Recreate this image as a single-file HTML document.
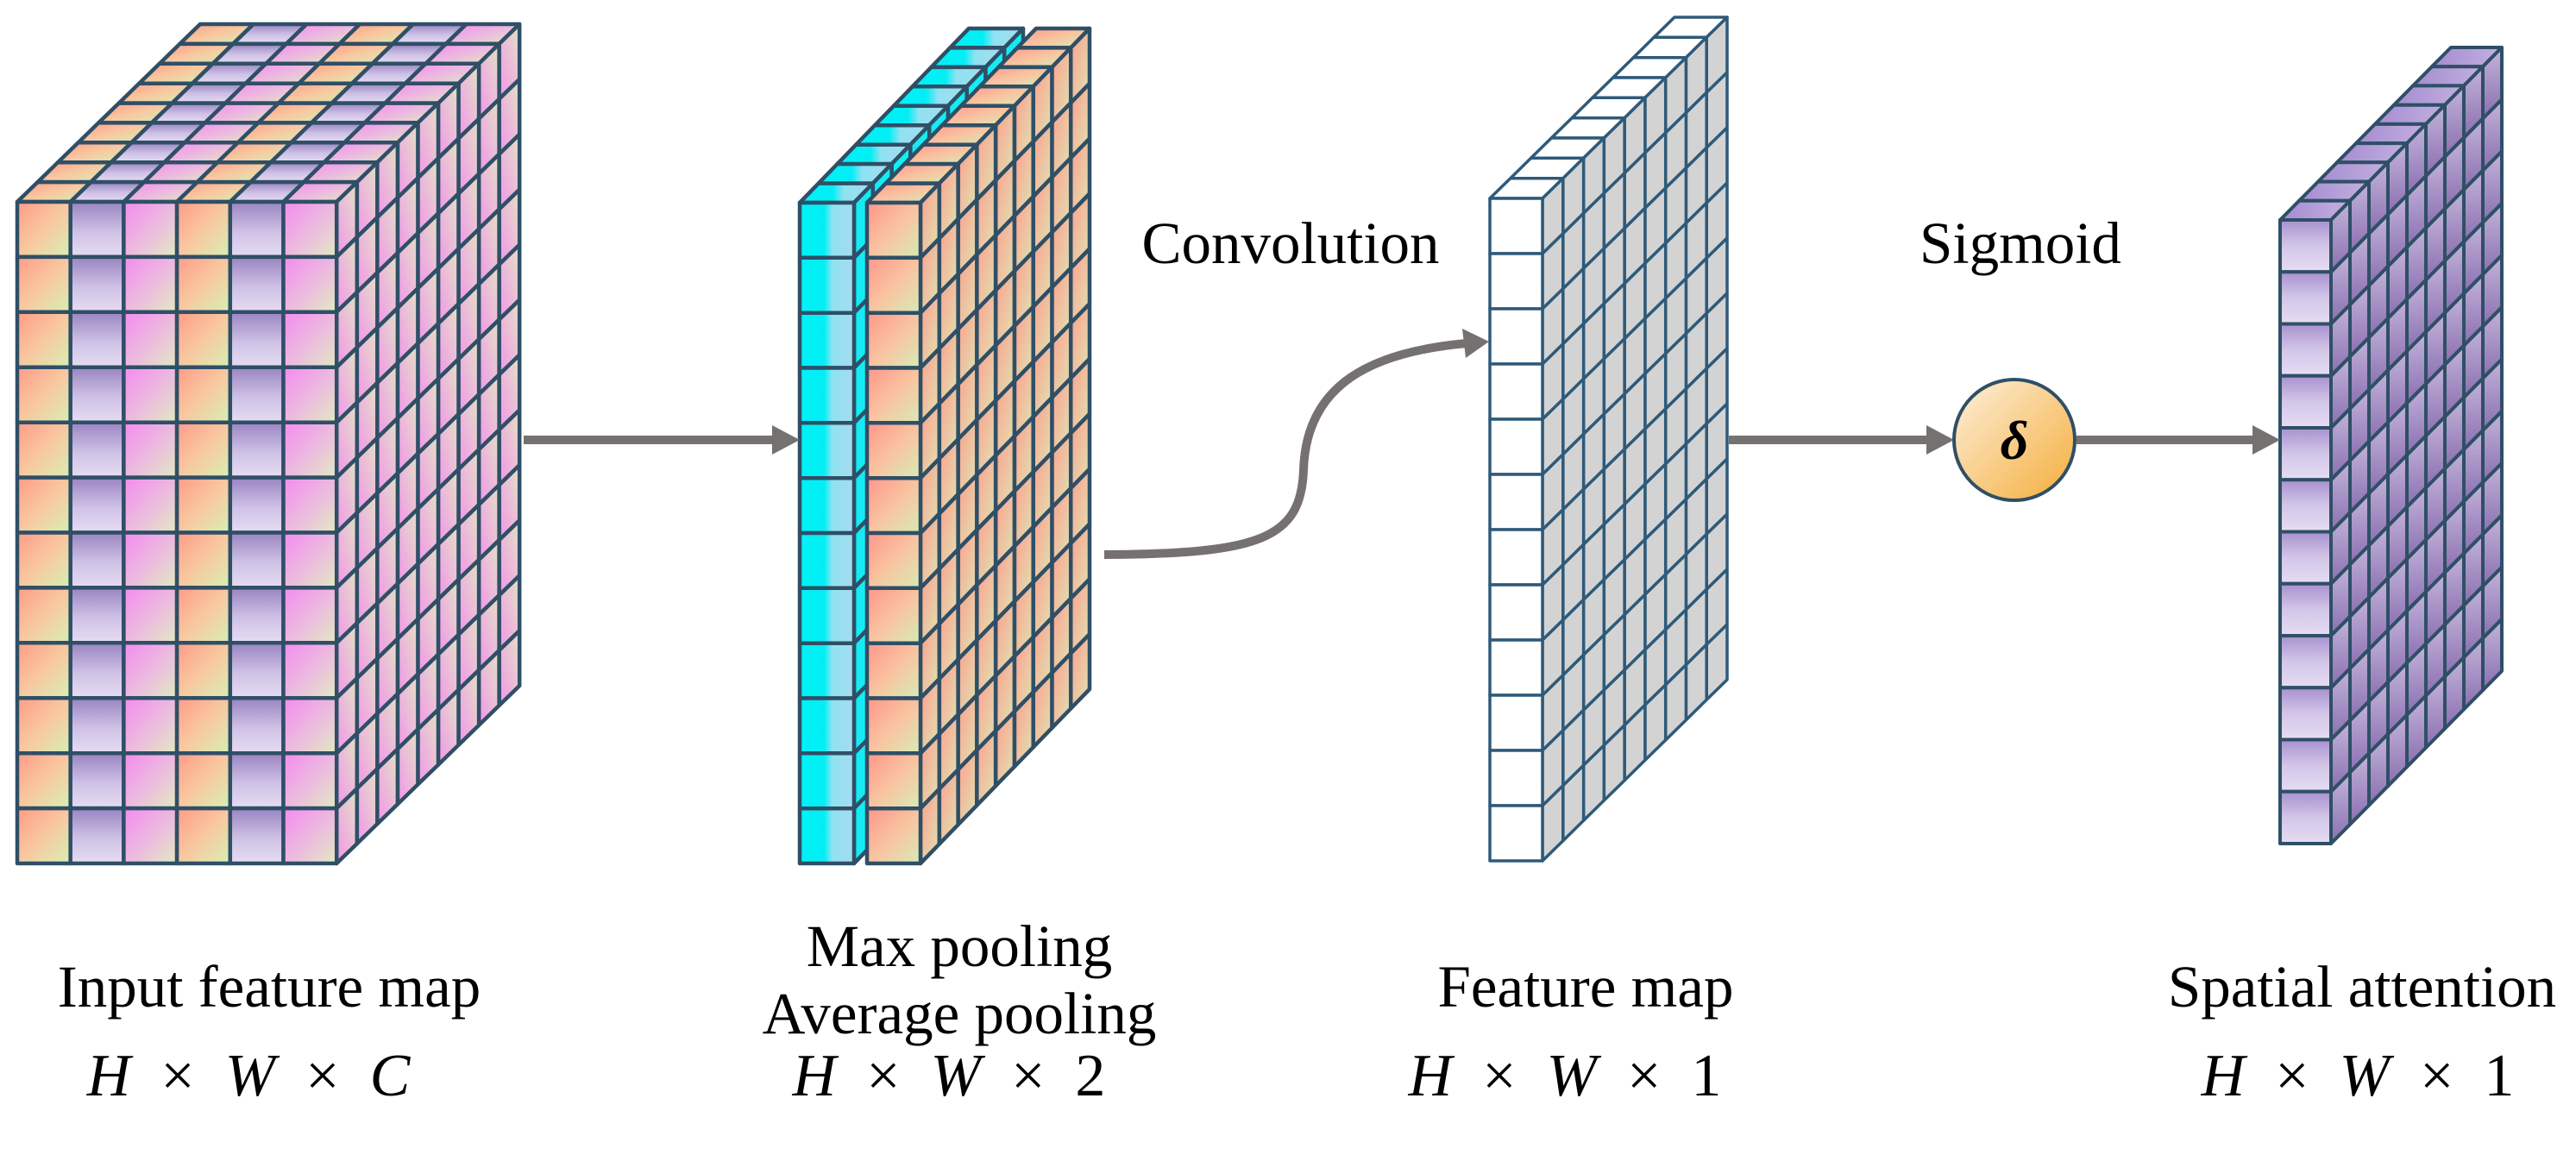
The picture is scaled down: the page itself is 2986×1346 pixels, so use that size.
<!DOCTYPE html>
<html><head><meta charset="utf-8">
<style>
html,body{margin:0;padding:0;background:#fff;}
svg{display:block;}
.t{font-family:"Liberation Serif",serif;font-size:69px;fill:#000;}
.m{font-family:"Liberation Serif",serif;font-size:70px;fill:#000;}
</style></head>
<body>
<svg id="s" width="2986" height="1346" viewBox="0 0 2986 1346" xmlns="http://www.w3.org/2000/svg">
<defs>
<linearGradient id="peach" x1="0" y1="0" x2="1" y2="1"><stop offset="0" stop-color="#ff9a88"/><stop offset="0.5" stop-color="#f8c8a0"/><stop offset="1" stop-color="#d6f0b4"/></linearGradient>
<linearGradient id="purp" x1="0" y1="0" x2="0" y2="1"><stop offset="0" stop-color="#9a84c2"/><stop offset="0.55" stop-color="#cfc2e6"/><stop offset="1" stop-color="#e6dcf3"/></linearGradient>
<linearGradient id="pink" x1="0" y1="0" x2="1" y2="1"><stop offset="0" stop-color="#f58af0"/><stop offset="0.5" stop-color="#ecb8e0"/><stop offset="1" stop-color="#e2eac2"/></linearGradient>
<linearGradient id="side" x1="0" y1="1" x2="1" y2="0"><stop offset="0" stop-color="#f295e8"/><stop offset="0.5" stop-color="#ebbcd8"/><stop offset="1" stop-color="#e2e2c4"/></linearGradient>
<linearGradient id="cyan" x1="0" y1="0" x2="1" y2="0"><stop offset="0" stop-color="#00f2f7"/><stop offset="0.45" stop-color="#02eef5"/><stop offset="0.6" stop-color="#8fe2f2"/><stop offset="1" stop-color="#a6dbee"/></linearGradient>
<linearGradient id="orng" x1="0" y1="0" x2="1" y2="1"><stop offset="0" stop-color="#ff958a"/><stop offset="0.5" stop-color="#f9c3a0"/><stop offset="1" stop-color="#d6ecb6"/></linearGradient>
<linearGradient id="orside" x1="0" y1="0" x2="1" y2="1"><stop offset="0" stop-color="#ff9d8c"/><stop offset="1" stop-color="#dde6b4"/></linearGradient>
<linearGradient id="apf" x1="0" y1="0" x2="0" y2="1"><stop offset="0" stop-color="#a891cf"/><stop offset="0.5" stop-color="#d2c6e8"/><stop offset="1" stop-color="#e6ddf3"/></linearGradient>
<linearGradient id="aps" x1="0" y1="1" x2="0" y2="0"><stop offset="0" stop-color="#8a6fb0"/><stop offset="1" stop-color="#c3b4da"/></linearGradient>
<linearGradient id="apt" x1="0" y1="0" x2="1" y2="0"><stop offset="0" stop-color="#a58cd0"/><stop offset="1" stop-color="#c2b0e0"/></linearGradient>
<linearGradient id="sig" x1="0" y1="0" x2="1" y2="1"><stop offset="0" stop-color="#fdf0dc"/><stop offset="1" stop-color="#f4ad3a"/></linearGradient>
</defs>
<g id="shapes"></g>

<g stroke="#767171" stroke-width="10" fill="none">
<line x1="607" y1="510" x2="900" y2="510"/>
<path d="M1280 643 C 1460 642, 1508 625, 1511 545 C 1514 445, 1590 408, 1700 398"/>
<line x1="2004" y1="510" x2="2238" y2="510"/>
<line x1="2407" y1="510" x2="2616" y2="510"/>
</g>
<g fill="#767171">
<polygon points="927,510 895,493 895,527"/>
<polygon points="1726,396 1695,381 1699,415"/>
<polygon points="2265,510 2233,493 2233,527"/>
<polygon points="2643,510 2611,493 2611,527"/>
</g>
<ellipse cx="2335" cy="510" rx="70" ry="70" fill="url(#sig)" stroke="#2f4f66" stroke-width="4"/>
<text x="2335" y="532" text-anchor="middle" style="font-family:'Liberation Serif',serif;font-size:64px;font-style:italic;font-weight:bold;">δ</text>

<text class="t" x="1496" y="305" text-anchor="middle">Convolution</text>
<text class="t" x="2342" y="305" text-anchor="middle">Sigmoid</text>
<text class="t" x="312" y="1167" text-anchor="middle">Input feature map</text>
<text class="t" x="1112" y="1120" text-anchor="middle">Max pooling</text>
<text class="t" x="1112" y="1198" text-anchor="middle">Average pooling</text>
<text class="t" x="1838" y="1167" text-anchor="middle">Feature map</text>
<text class="t" x="2738" y="1167" text-anchor="middle">Spatial attention</text>

<text class="m" x="288" y="1270" text-anchor="middle" xml:space="preserve"><tspan font-style="italic">H</tspan>  ×  <tspan font-style="italic">W</tspan>  ×  <tspan font-style="italic">C</tspan></text>
<text class="m" x="1100" y="1270" text-anchor="middle" xml:space="preserve"><tspan font-style="italic">H</tspan>  ×  <tspan font-style="italic">W</tspan>  ×  2</text>
<text class="m" x="1814" y="1270" text-anchor="middle" xml:space="preserve"><tspan font-style="italic">H</tspan>  ×  <tspan font-style="italic">W</tspan>  ×  1</text>
<text class="m" x="2733" y="1270" text-anchor="middle" xml:space="preserve"><tspan font-style="italic">H</tspan>  ×  <tspan font-style="italic">W</tspan>  ×  1</text>
</svg>
<script>
(function(){
var g=document.getElementById('shapes');var NS='http://www.w3.org/2000/svg';
function poly(pts,fill,stroke,sw){var p=document.createElementNS(NS,'polygon');p.setAttribute('points',pts.map(function(a){return a[0].toFixed(1)+','+a[1].toFixed(1);}).join(' '));p.setAttribute('fill',fill);p.setAttribute('stroke',stroke);p.setAttribute('stroke-width',sw);p.setAttribute('stroke-linejoin','round');g.appendChild(p);}
function block(o){
 var x0=o.x,y0=o.y,w=o.w,h=(o.bottom-o.y)/o.rows,L=o.layers,ddx=o.dx/L,ddy=o.dy/L,x1=x0+o.cols*w;
 for(var k=L-1;k>=0;k--){for(var c=0;c<o.cols;c++){
  var ax=x0+c*w,bx=x0+(c+1)*w;
  poly([[ax+k*ddx,y0+k*ddy],[bx+k*ddx,y0+k*ddy],[bx+(k+1)*ddx,y0+(k+1)*ddy],[ax+(k+1)*ddx,y0+(k+1)*ddy]],o.top(c),o.st,o.sw);
 }}
 for(var k=L-1;k>=0;k--){for(var r=0;r<o.rows;r++){
  var ya=y0+r*h,yb=y0+(r+1)*h;
  poly([[x1+k*ddx,ya+k*ddy],[x1+(k+1)*ddx,ya+(k+1)*ddy],[x1+(k+1)*ddx,yb+(k+1)*ddy],[x1+k*ddx,yb+k*ddy]],o.side,o.st,o.sw);
 }}
 for(var c=0;c<o.cols;c++){for(var r=0;r<o.rows;r++){
  var ax=x0+c*w,ya=y0+r*h;
  poly([[ax,ya],[ax+w,ya],[ax+w,ya+h],[ax,ya+h]],o.front(c),o.st,o.sw);
 }}
}
var cc=['url(#peach)','url(#purp)','url(#pink)'];
block({x:20,y:234,w:61.7,cols:6,rows:12,bottom:1001,layers:9,dx:212,dy:-206,
 front:function(c){return cc[c%3];},top:function(c){return cc[c%3];},side:'url(#side)',st:'#2f4f66',sw:4.5});
block({x:927,y:235,w:63,cols:1,rows:12,bottom:1001,layers:9,dx:196,dy:-202,
 front:function(){return 'url(#cyan)';},top:function(){return 'url(#cyan)';},side:'#14ecf4',st:'#2f4f66',sw:4.5});
block({x:1005,y:235,w:62,cols:1,rows:12,bottom:1001,layers:9,dx:196,dy:-202,
 front:function(){return 'url(#orng)';},top:function(){return 'url(#orng)';},side:'url(#orside)',st:'#2f4f66',sw:4.5});
block({x:1727,y:230,w:61,cols:1,rows:12,bottom:998,layers:9,dx:214,dy:-210,
 front:function(){return '#ffffff';},top:function(){return '#ffffff';},side:'#d3d3d3',st:'#2e5a7a',sw:3.5});
block({x:2643,y:255,w:59,cols:1,rows:12,bottom:978,layers:9,dx:198,dy:-200,
 front:function(){return 'url(#apf)';},top:function(){return 'url(#apt)';},side:'url(#aps)',st:'#2f4f66',sw:4});
})();
</script>
</body></html>
